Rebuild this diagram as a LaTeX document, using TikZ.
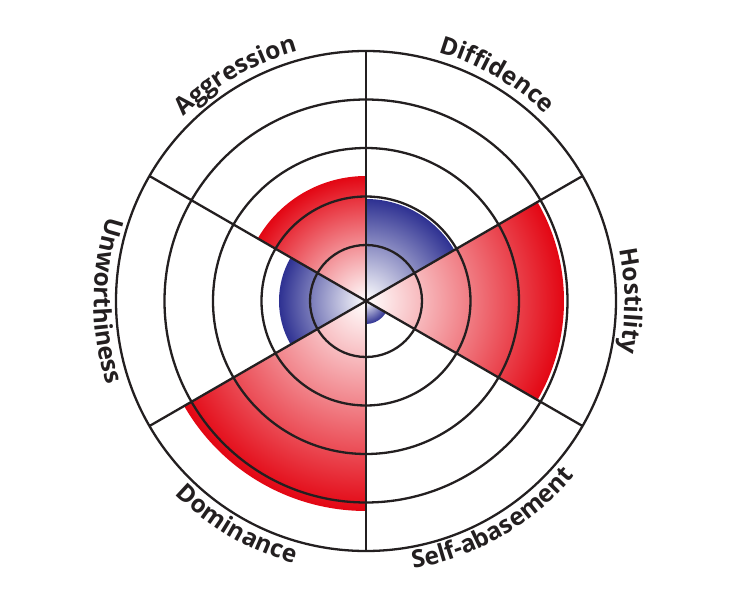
\documentclass[tikz,border=0pt]{standalone}
\usepackage{fontspec}
\newfontfamily\labfont{Open Sans}
\usetikzlibrary{decorations.text}
\definecolor{redc}{RGB}{227,6,19}
\definecolor{bluec}{RGB}{46,49,146}
\definecolor{inkc}{RGB}{35,31,32}
\tikzset{
  gridline/.style={draw=inkc, line width=2.3pt},
  toplabel/.style={decorate, decoration={text along path, text align=center, text color=inkc,
    text={|\fontsize{24.5}{28}\selectfont\labfont\bfseries|#1}}},
}
\newcommand{\sectorfill}[4]{% start angle, end angle, radius, colour
  \begin{scope}
    \clip (0,0) -- (#1:#3) arc[start angle=#1, end angle=#2, radius=#3] -- cycle;
    \shade[inner color=white, outer color=#4] (0,0) circle (#3);
  \end{scope}}
\begin{document}
\begin{tikzpicture}
\useasboundingbox (-366pt,-299pt) rectangle (366pt,301pt);
% shaded sectors
\sectorfill{30}{90}{102pt}{bluec}      % Diffidence
\sectorfill{90}{150}{125pt}{redc}      % Aggression
\sectorfill{150}{210}{87pt}{bluec}     % Unworthiness
\sectorfill{210}{270}{210pt}{redc}     % Dominance
\sectorfill{270}{330}{23pt}{bluec}     % Self-abasement
\sectorfill{-30}{30}{198pt}{redc}      % Hostility
% rings
\foreach \r in {56pt,104.5pt,153pt,201.5pt,250pt}
  \draw[gridline] (0,0) circle (\r);
% spokes
\foreach \a in {30,90,150}
  \draw[gridline] (\a:250pt) -- (\a+180:250pt);
% labels (top half: clockwise, tops outward)
\path[toplabel=Aggression] (150:259pt) arc[start angle=150, end angle=90, radius=259pt];
\path[toplabel=Diffidence] (90:259pt) arc[start angle=90, end angle=30, radius=259pt];
\path[toplabel=Hostility] (30:259pt) arc[start angle=30, end angle=-30, radius=259pt];
% labels (bottom half: counter-clockwise, tops inward)
\path[toplabel=Unworthiness] (150:272pt) arc[start angle=150, end angle=210, radius=272pt];
\path[toplabel=Dominance] (210:272pt) arc[start angle=210, end angle=270, radius=272pt];
\path[toplabel=Self-abasement] (270:272pt) arc[start angle=270, end angle=330, radius=272pt];
\end{tikzpicture}
\end{document}
